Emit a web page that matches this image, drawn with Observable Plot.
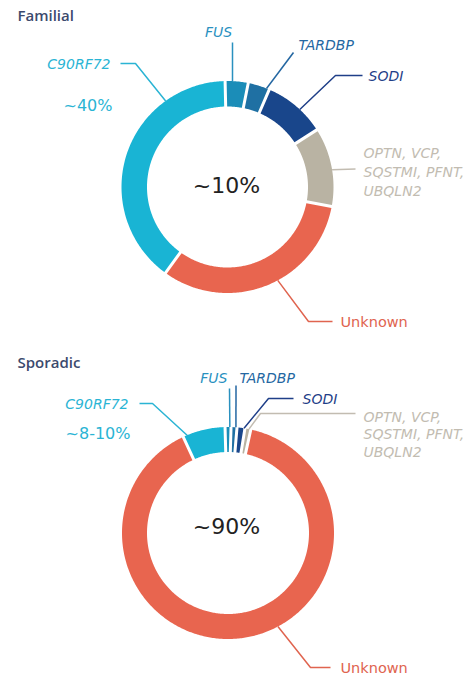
<!DOCTYPE html>
<html><head><meta charset="utf-8">
<script src="https://cdn.jsdelivr.net/npm/d3@7"></script>
<script src="https://cdn.jsdelivr.net/npm/@observablehq/plot@0.6"></script>
<style>body{margin:0;background:#fff}</style>
</head><body><div id="chart"></div>
<script>
// ---- data ----
const genes = ["FUS", "TARDBP", "SOD1", "OPTN/VCP/SQSTM1/PFN1/UBQLN2", "Unknown", "C9ORF72"];
const familialShare = [3.5, 3.3, 9.5, 12, 32, 39.7];
const sporadicShare = [0.9, 0.9, 1.2, 0.9, 89.6, 6.5];
const geneColors = ["#1b8db8", "#1f70a3", "#19468b", "#b9b3a3", "#e8654f", "#19b4d4"];
const labelColors = ["#2a91bf", "#2467a2", "#1f3f88", "#c2bcb1", "#e0644f", "#2ab4d4"];
const geneLabels = [["FUS"], ["TARDBP"], ["SODI"], ["OPTN, VCP,", "SQSTMI, PFNT,", "UBQLN2"], ["Unknown"], ["C90RF72"]];
const panelTitles = ["Familial", "Sporadic"];
const centerTexts = ["~10%", "~90%"];
const shareNotes = ["~40%", "~8-10%"];

// ---- layout (positions only) ----
const deg = Math.PI / 180;
const panels = [
  {
    name: "fam", share: familialShare, cx: 227, cy: 186.5, R: 106, r: 80.5, gap: 3, start: -1.3 * deg,
    title: {x: 17, y: 20}, center: {x: 226, y: 192}, note: {x: 112, y: 110},
    leaders: [
      {angle: 2.7, pts: [[232, 42]], label: {x: 218, y: 36, anchor: "middle"}},
      {angle: 21.6, pts: [[293, 52]], label: {x: 298, y: 49, anchor: "start"}},
      {angle: 43, pts: [[335, 75], [362, 75]], label: {x: 368, y: 80, anchor: "start"}},
      {angle: 80.6, pts: [[355, 168.5]], label: {x: 363, y: 157, anchor: "start", lh: 19}},
      {angle: 151.7, pts: [[308, 321], [332, 321]], label: {x: 340, y: 326, anchor: "start"}},
      {angle: 324.3, pts: [[135, 63], [120, 63]], label: {x: 110, y: 68, anchor: "end"}}
    ]
  },
  {
    name: "spo", share: sporadicShare, cx: 227.5, cy: 532.5, R: 106, r: 81, gap: 3, start: -1.6 * deg,
    title: {x: 17, y: 367}, center: {x: 226, y: 533}, note: {x: 130, y: 438},
    leaders: [
      {angle: 1, pts: [[229, 388]], label: {x: 227, y: 382, anchor: "end"}},
      {angle: 4.3, pts: [[235.5, 385]], label: {x: 239, y: 382, anchor: "start"}},
      {angle: 8.7, pts: [[268, 398], [293, 398]], label: {x: 302, y: 403, anchor: "start"}},
      {angle: 11.4, pts: [[260, 413], [355, 413]], label: {x: 363, y: 421, anchor: "start", lh: 17.5}},
      {angle: 151.9, pts: [[310, 667], [330, 667]], label: {x: 340, y: 672, anchor: "end2"}},
      {angle: 337.3, pts: [[152, 403], [139, 403]], label: {x: 128, y: 408, anchor: "end"}}
    ]
  }
];

// ---- derived geometry ----
function sliceRows(p) {
  const arcs = d3.pie().sort(null).startAngle(p.start).endAngle(p.start + 2 * Math.PI)(p.share);
  const rows = [];
  arcs.forEach((a, i) => {
    const n = Math.max(6, Math.ceil((a.endAngle - a.startAngle) * 80));
    const angles = (rad) => {
      let a0 = a.startAngle + p.gap / 2 / rad, a1 = a.endAngle - p.gap / 2 / rad;
      if (a1 < a0) { const m = (a.startAngle + a.endAngle) / 2; a0 = m - 0.002; a1 = m + 0.002; }
      return d3.range(n + 1).map(k => a0 + (a1 - a0) * k / n);
    };
    angles(p.R).forEach(t => rows.push({key: p.name + genes[i], x: p.cx + p.R * Math.sin(t), y: p.cy - p.R * Math.cos(t), fill: geneColors[i]}));
    angles(p.r).reverse().forEach(t => rows.push({key: p.name + genes[i], x: p.cx + p.r * Math.sin(t), y: p.cy - p.r * Math.cos(t), fill: geneColors[i]}));
  });
  return rows;
}

function leaderRows(p) {
  const rows = [];
  p.leaders.forEach((l, i) => {
    const t = l.angle * deg;
    const start = [p.cx + p.R * Math.sin(t), p.cy - p.R * Math.cos(t)];
    [start, ...l.pts].forEach(([x, y]) => rows.push({key: p.name + genes[i], x, y, stroke: labelColors[i]}));
  });
  return rows;
}

const marks = [];
const FONT = "DejaVu Sans, Verdana, sans-serif";
panels.forEach((p, pi) => {
  marks.push(Plot.line(sliceRows(p), {x: "x", y: "y", z: "key", fill: "fill", stroke: "none", curve: "linear-closed"}));
  marks.push(Plot.line(leaderRows(p), {x: "x", y: "y", z: "key", stroke: "stroke", strokeWidth: 1.5, strokeLinecap: "butt", strokeLinejoin: "miter", curve: "linear"}));
  // gene labels
  p.leaders.forEach((l, i) => {
    const lines = geneLabels[i];
    const isUnknown = genes[i] === "Unknown";
    const anchor = l.label.anchor === "end2" ? "start" : l.label.anchor;
    lines.forEach((txt, k) => {
      marks.push(Plot.text([txt], {
        x: () => l.label.x, y: () => l.label.y + k * (l.label.lh || 0), text: d => d,
        fill: labelColors[i], fontSize: isUnknown ? 14.5 : 14, fontStyle: isUnknown ? "normal" : "italic",
        fontFamily: FONT, textAnchor: anchor, lineAnchor: "bottom"
      }));
    });
  });
  // share note under C9ORF72
  marks.push(Plot.text([shareNotes[pi]], {x: () => p.note.x, y: () => p.note.y, text: d => d, fill: labelColors[5],
    fontSize: 16, fontFamily: FONT, textAnchor: "end", lineAnchor: "bottom"}));
  // centre text
  marks.push(Plot.text([centerTexts[pi]], {x: () => p.center.x, y: () => p.center.y, text: d => d, fill: "#222",
    fontSize: 22, fontFamily: FONT, textAnchor: "middle", lineAnchor: "bottom"}));
  // panel title
  marks.push(Plot.text([panelTitles[pi]], {x: () => p.title.x, y: () => p.title.y, text: d => d, fill: "#3c4a6d",
    fontSize: 15, fontWeight: 600, fontFamily: "Open Sans, sans-serif", textAnchor: "start", lineAnchor: "bottom"}));
});

const chart = Plot.plot({
  width: 471, height: 677, margin: 0,
  x: {domain: [0, 471], range: [0, 471], axis: null},
  y: {domain: [0, 677], range: [0, 677], axis: null},
  color: {type: "identity"},
  style: {background: "#fff"},
  marks
});
document.getElementById("chart").append(chart);
</script>
</body></html>
